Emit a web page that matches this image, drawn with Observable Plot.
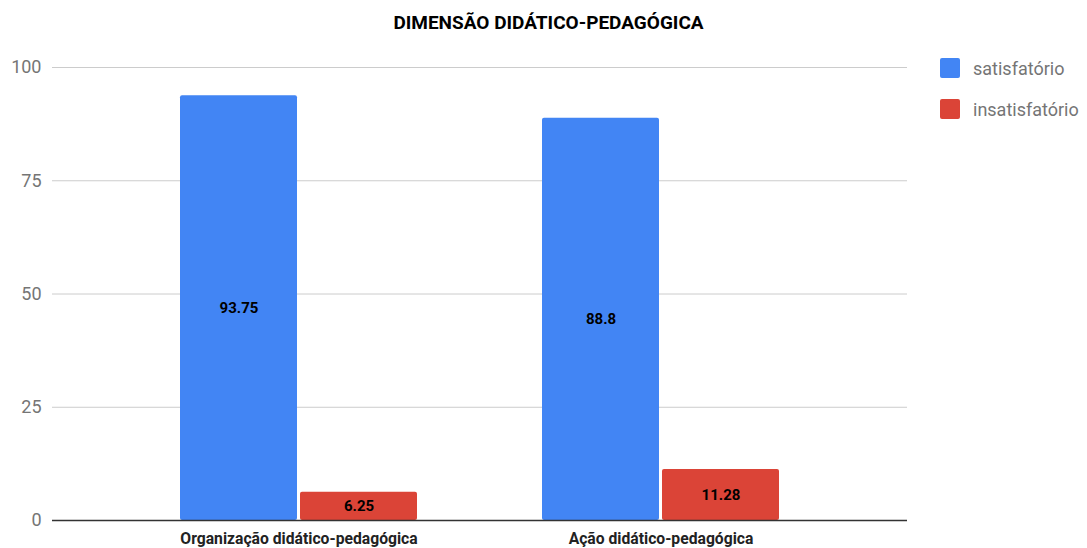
<!DOCTYPE html>
<html>
<head>
<meta charset="utf-8">
<script src="https://cdn.jsdelivr.net/npm/d3@7"></script>
<script src="https://cdn.jsdelivr.net/npm/@observablehq/plot@0.6"></script>
<style>
  html, body { margin: 0; padding: 0; background: #fff; }
  #wrap { position: relative; width: 1087px; height: 548px; font-family: Roboto, "Noto Sans", sans-serif; }
  #title { position: absolute; left: 0; width: 1097px; top: 12px; text-align: center; font-weight: bold; font-size: 19px; line-height: 22px; color: #000; }
  #legend { position: absolute; left: 940px; top: 58px; }
  .item { display: flex; align-items: center; height: 20px; margin-bottom: 21px; }
  .sw { width: 20px; height: 20px; border-radius: 2px; margin-right: 13px; }
  .lab { font-size: 18px; color: #757575; }
</style>
</head>
<body>
<div id="wrap">
  <div id="title">DIMENSÃO DIDÁTICO-PEDAGÓGICA</div>
  <div id="chart"></div>
  <div id="legend"></div>
</div>
<script>
const categories = ["Organização didático-pedagógica", "Ação didático-pedagógica"];
const seriesNames = ["satisfatório", "insatisfatório"];
const satisfatorio = [93.75, 88.8];
const insatisfatorio = [6.25, 11.28];
const yTicks = [0, 25, 50, 75, 100];
const colors = ["#4285F4", "#DB4437"];

const data = [];
categories.forEach((c, i) => {
  data.push({category: c, series: seriesNames[0], value: satisfatorio[i]});
  data.push({category: c, series: seriesNames[1], value: insatisfatorio[i]});
});
const sat = data.filter(d => d.series === seriesNames[0]);
const ins = data.filter(d => d.series === seriesNames[1]);

const plot = Plot.plot({
  width: 1087,
  height: 548,
  marginTop: 67,
  marginBottom: 28,
  marginLeft: 52,
  marginRight: 180,
  style: {fontFamily: "Roboto, sans-serif", background: "transparent"},
  x: {domain: categories, paddingInner: 0.346, paddingOuter: 0.353, label: null},
  y: {domain: [0, 100], label: null},
  color: {domain: seriesNames, range: colors},
  marks: [
    Plot.gridY(yTicks, {stroke: "#cccccc", strokeOpacity: 1, strokeWidth: 1}),
    Plot.axisY(yTicks, {tickSize: 0, tickPadding: 11, fontSize: 18, fill: "#757575", label: null}),
    Plot.axisX({tickSize: 0, tickPadding: 12, fontSize: 15.7, fontWeight: "bold", fill: "#222", label: null}),
    Plot.barY(sat, {x: "category", y: "value", fill: "series", insetRight: 120, rx: 2}),
    Plot.barY(ins, {x: "category", y: "value", fill: "series", insetLeft: 120, rx: 2}),
    Plot.text(sat, {x: "category", y: d => d.value / 2, text: d => String(d.value), dx: -60, fontSize: 15, fontWeight: "bold", fill: "#000"}),
    Plot.text(ins, {x: "category", y: d => d.value / 2, text: d => String(d.value), dx: 60, fontSize: 15, fontWeight: "bold", fill: "#000"}),
    Plot.ruleY([0], {stroke: "#333", strokeWidth: 1.5})
  ]
});
document.getElementById("chart").appendChild(plot);

const legend = document.getElementById("legend");
seriesNames.forEach((s, i) => {
  const it = document.createElement("div");
  it.className = "item";
  it.innerHTML = `<div class="sw" style="background:${colors[i]}"></div><span class="lab">${s}</span>`;
  legend.appendChild(it);
});
</script>
</body>
</html>
